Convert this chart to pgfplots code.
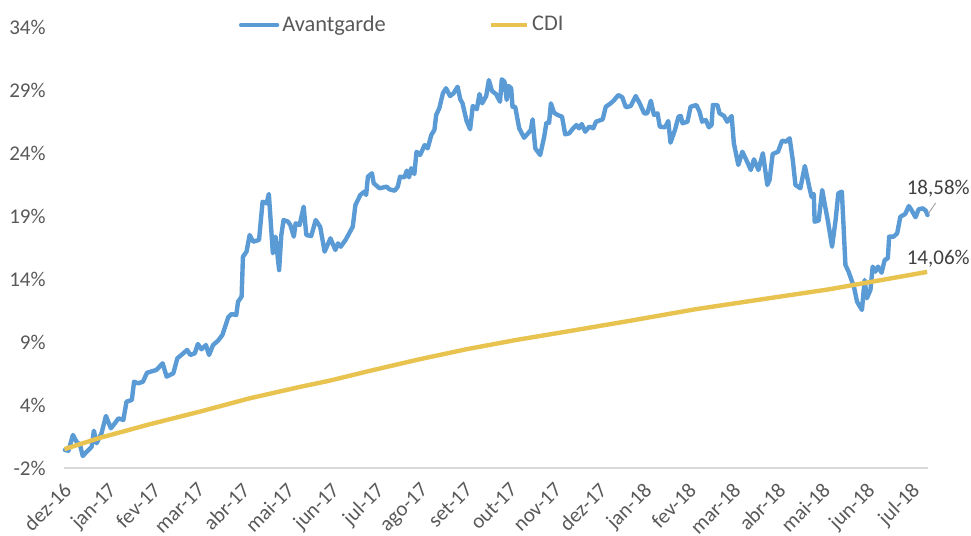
\documentclass[border=0pt]{standalone}
\usepackage{pgfplots}
\pgfplotsset{compat=1.18}
\usepackage{fontspec}
\setmainfont{Carlito}
\definecolor{avblue}{RGB}{91,155,213}
\definecolor{cdigold}{RGB}{233,195,80}
\definecolor{ticktext}{RGB}{89,89,89}
\definecolor{annot}{RGB}{64,64,64}
\definecolor{axisgray}{RGB}{217,217,217}
\newcommand{\chartfont}{\fontsize{10.5}{12.6}\selectfont}
\newcommand{\legendfont}{\fontsize{11.2}{13.4}\selectfont}
\begin{document}
\begin{tikzpicture}
\begin{axis}[
  at={(32pt,34pt)}, anchor=south west,
  scale only axis, width=432pt, height=220.5pt,
  xmin=-0.09, xmax=19.27, ymin=-1.5, ymax=33.5,
  clip=false,
  axis x line*=bottom, axis y line*=left,
  x axis line style={axisgray, line width=0.7pt, -},
  y axis line style={draw=none},
  major tick length=0pt, tick style={draw=none},
  ytick={-1.5,3.5,8.5,13.5,18.5,23.5,28.5,33.5},
  yticklabels={-2\%,4\%,9\%,14\%,19\%,24\%,29\%,34\%},
  xtick={0,1,2,3,4,5,6,7,8,9,10,11,12,13,14,15,16,17,18,19},
  xticklabels={dez-16,jan-17,fev-17,mar-17,abr-17,mai-17,jun-17,jul-17,ago-17,set-17,out-17,nov-17,dez-17,jan-18,fev-18,mar-18,abr-18,mai-18,jun-18,jul-18},
  ticklabel style={font=\chartfont, text=ticktext},
  xticklabel shift=0pt,
  xticklabel style={rotate=45, anchor=north east, inner sep=0pt, xshift=-6.58pt, yshift=-2.62pt},
  yticklabel style={anchor=east, inner sep=0pt},
  yticklabel shift=9pt,
  legend columns=2,
  legend style={draw=none, fill=none, at={(0.2020,1.0045)}, anchor=west,
    font=\legendfont, text=ticktext, inner sep=0pt,
    nodes={inner sep=1.5pt},
    /tikz/every even column/.append style={column sep=50pt}},
  legend image code/.code={\draw[#1] (0pt,0pt) -- (18pt,0pt);},
]
\addplot[avblue, line width=2.2pt, line join=round, line cap=round] coordinates {
(-0.07,-0.07) (0.01,-0.13) (0.11,1.12) (0.19,0.59) (0.27,0.33) (0.33,-0.55)
(0.42,-0.21) (0.53,0.19) (0.58,1.46) (0.64,0.46) (0.75,1.25) (0.85,2.63)
(0.96,1.65) (1.05,2.05) (1.13,2.44) (1.24,2.31) (1.31,3.76) (1.43,3.90)
(1.48,5.35) (1.57,5.22) (1.68,5.35) (1.77,6.06) (1.98,6.28) (2.12,6.81)
(2.21,5.75) (2.36,6.02) (2.45,7.21) (2.54,7.47) (2.67,7.87) (2.74,7.47)
(2.84,7.60) (2.91,8.34) (2.99,7.92) (3.09,8.26) (3.16,7.47) (3.25,8.26)
(3.36,8.60) (3.46,9.06) (3.59,10.46) (3.66,10.72) (3.77,10.64) (3.81,11.70)
(3.89,12.10) (3.92,15.27) (4.00,15.67) (4.07,16.99) (4.15,16.46) (4.28,16.60)
(4.36,19.63) (4.45,19.51) (4.50,20.25) (4.59,15.54) (4.65,16.86) (4.73,14.21)
(4.78,16.99) (4.83,18.18) (4.93,18.05) (4.98,17.79) (5.06,16.86) (5.10,17.92)
(5.19,17.79) (5.28,19.24) (5.34,16.99) (5.45,16.91) (5.55,18.18) (5.65,17.65)
(5.75,15.67) (5.88,16.73) (5.99,15.80) (6.05,16.33) (6.11,16.06) (6.22,16.60)
(6.38,17.65) (6.44,19.37) (6.55,20.17) (6.64,20.43) (6.68,20.17) (6.72,21.62)
(6.81,21.89) (6.85,21.10) (6.98,20.70) (7.14,20.83) (7.20,20.62) (7.32,20.51)
(7.39,20.83) (7.44,21.62) (7.54,21.57) (7.59,22.10) (7.64,21.57) (7.69,22.29)
(7.76,21.83) (7.81,23.60) (7.89,23.34) (7.99,24.13) (8.06,23.87) (8.14,24.93)
(8.21,25.33) (8.25,26.52) (8.32,27.05) (8.40,28.24) (8.47,28.64) (8.56,28.02)
(8.64,28.24) (8.73,28.76) (8.79,27.76) (8.84,27.44) (8.93,26.06) (9.01,25.38)
(9.07,27.23) (9.16,26.97) (9.22,28.18) (9.28,27.44) (9.37,28.02) (9.43,29.29)
(9.50,28.42) (9.59,28.18) (9.68,27.57) (9.72,29.35) (9.78,29.16) (9.83,27.71)
(9.87,28.82) (9.93,28.64) (9.96,27.17) (10.02,27.17) (10.11,25.46) (10.22,24.71)
(10.32,25.11) (10.37,25.33) (10.41,26.17) (10.47,23.87) (10.58,23.34) (10.67,24.79)
(10.72,25.90) (10.78,25.90) (10.82,27.44) (10.89,26.70) (10.97,26.52) (11.07,26.38)
(11.14,24.98) (11.23,25.06) (11.32,25.46) (11.39,25.72) (11.45,25.46) (11.51,25.80)
(11.59,25.19) (11.68,25.59) (11.77,25.46) (11.83,25.98) (11.98,26.17) (12.05,27.17)
(12.16,27.44) (12.24,27.71) (12.33,28.10) (12.42,27.92) (12.50,27.13) (12.61,27.23)
(12.72,28.02) (12.81,27.44) (12.91,26.65) (12.98,26.65) (13.06,27.65) (13.13,26.52)
(13.21,26.65) (13.26,25.59) (13.38,25.54) (13.45,26.04) (13.50,24.32) (13.60,25.33)
(13.68,26.38) (13.73,26.44) (13.77,25.86) (13.88,25.98) (13.95,27.17) (14.08,27.31)
(14.15,26.78) (14.21,25.98) (14.29,26.12) (14.36,25.54) (14.42,25.72) (14.45,27.31)
(14.55,27.31) (14.60,26.65) (14.70,26.44) (14.77,25.98) (14.87,26.44) (14.92,24.27)
(15.02,22.55) (15.11,23.60) (15.20,22.94) (15.30,22.15) (15.37,23.00) (15.47,22.15)
(15.57,23.48) (15.67,20.96) (15.72,21.36) (15.79,23.42) (15.91,23.60) (16.00,24.48)
(16.09,24.40) (16.17,24.67) (16.24,22.94) (16.30,20.96) (16.41,20.70) (16.51,22.47)
(16.60,20.96) (16.66,20.03) (16.71,20.25) (16.73,18.05) (16.82,18.13) (16.90,20.56)
(16.96,19.37) (17.03,18.05) (17.12,16.06) (17.20,18.18) (17.26,20.30) (17.34,20.43)
(17.42,14.61) (17.49,14.08) (17.61,12.89) (17.68,11.70) (17.79,11.04) (17.85,13.42)
(17.90,11.97) (17.98,12.63) (18.03,14.48) (18.09,14.08) (18.15,14.48) (18.23,14.00)
(18.30,15.01) (18.37,15.14) (18.40,16.86) (18.50,16.86) (18.58,17.13) (18.65,18.44)
(18.76,18.66) (18.84,19.29) (18.90,18.98) (18.99,18.40) (19.06,19.03) (19.15,19.11)
(19.22,18.92) (19.26,18.58)
};
\addlegendentry{Avantgarde}
\addplot[cdigold, line width=2.2pt, line join=round] coordinates {
(-0.08,0.00) (0.72,0.90) (1.83,1.97) (2.95,2.97) (4.07,4.03) (5.19,4.93)
(5.86,5.43) (6.68,6.14) (7.80,7.07) (8.92,7.92) (10.04,8.66) (11.16,9.32)
(12.57,10.17) (14.06,11.10) (15.55,11.89) (17.05,12.68) (19.25,14.06)
};
\addlegendentry{CDI}
\draw[gray!70, line width=0.5pt] (axis cs:19.28,18.70) -- (axis cs:19.44,19.53);
\node[font=\chartfont, text=annot] at (axis cs:19.50,20.65) {18,58\%};
\node[font=\chartfont, text=annot] at (axis cs:19.50,15.09) {14,06\%};
\end{axis}
\pgfresetboundingbox
\path (0,0) rectangle (485.5pt,268pt);
\end{tikzpicture}
\end{document}
